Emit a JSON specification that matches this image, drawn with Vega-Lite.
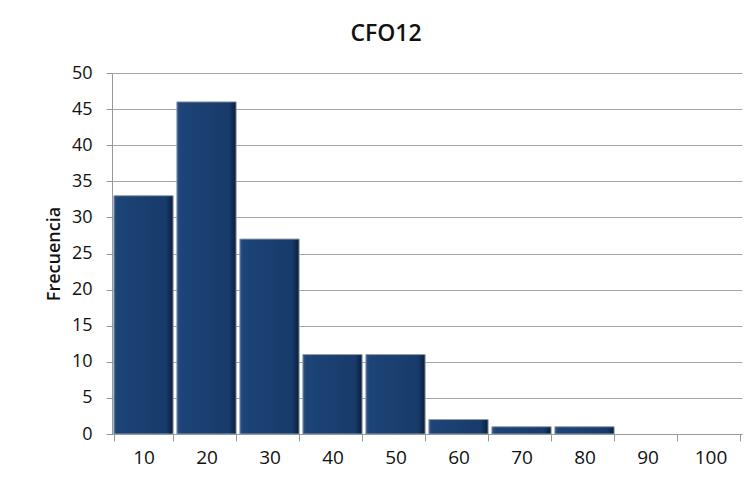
{
  "$schema": "https://vega.github.io/schema/vega-lite/v6.json",
  "width": 630,
  "height": 361,
  "autosize": {"type": "none"},
  "padding": {"left": 112, "top": 73, "right": 13, "bottom": 68},
  "background": "white",
  "title": {"text": "CFO12", "fontSize": 23, "fontWeight": 600, "font": "Open Sans", "color": "#111111", "anchor": "middle", "frame": "group", "offset": 18, "dx": -41},
  "data": {"values": [
    {"clase": "10", "frecuencia": 33},
    {"clase": "20", "frecuencia": 46},
    {"clase": "30", "frecuencia": 27},
    {"clase": "40", "frecuencia": 11},
    {"clase": "50", "frecuencia": 11},
    {"clase": "60", "frecuencia": 2},
    {"clase": "70", "frecuencia": 1},
    {"clase": "80", "frecuencia": 1},
    {"clase": "90", "frecuencia": 0},
    {"clase": "100", "frecuencia": 0}
  ]},
  "mark": {
    "type": "bar",
    "stroke": "#8c9bb0",
    "strokeWidth": 1,
    "fill": {"gradient": "linear", "x1": 0, "y1": 0, "x2": 1, "y2": 0, "stops": [
      {"offset": 0, "color": "#2d5389"},
      {"offset": 0.06, "color": "#1d4477"},
      {"offset": 0.88, "color": "#173b6a"},
      {"offset": 1, "color": "#0a1d3a"}
    ]}
  },
  "encoding": {
    "x": {
      "field": "clase", "type": "ordinal", "sort": null,
      "scale": {"paddingInner": 0.06, "paddingOuter": 0.03},
      "axis": {"title": null, "labelAngle": 0, "tickBand": "extent", "grid": false, "labelFontSize": 19, "labelPadding": 7, "tickSize": 7, "tickColor": "#999999", "domainColor": "#999999", "labelColor": "#111111", "labelFont": "Open Sans"}
    },
    "y": {
      "field": "frecuencia", "type": "quantitative",
      "scale": {"domain": [0, 50], "nice": false},
      "axis": {"title": "Frecuencia", "values": [0, 5, 10, 15, 20, 25, 30, 35, 40, 45, 50], "labelFontSize": 18, "labelPadding": 14, "tickSize": 6, "tickColor": "#999999", "domainColor": "#999999", "gridColor": "#a6a6a6", "labelColor": "#111111", "labelFont": "Open Sans", "titleFont": "Open Sans", "titleFontSize": 18, "titleFontWeight": 600, "titleColor": "#111111", "titlePadding": 8}
    },
    "strokeOpacity": {"condition": {"test": "datum.frecuencia === 0", "value": 0}, "value": 1}
  },
  "config": {"view": {"stroke": null}}
}
